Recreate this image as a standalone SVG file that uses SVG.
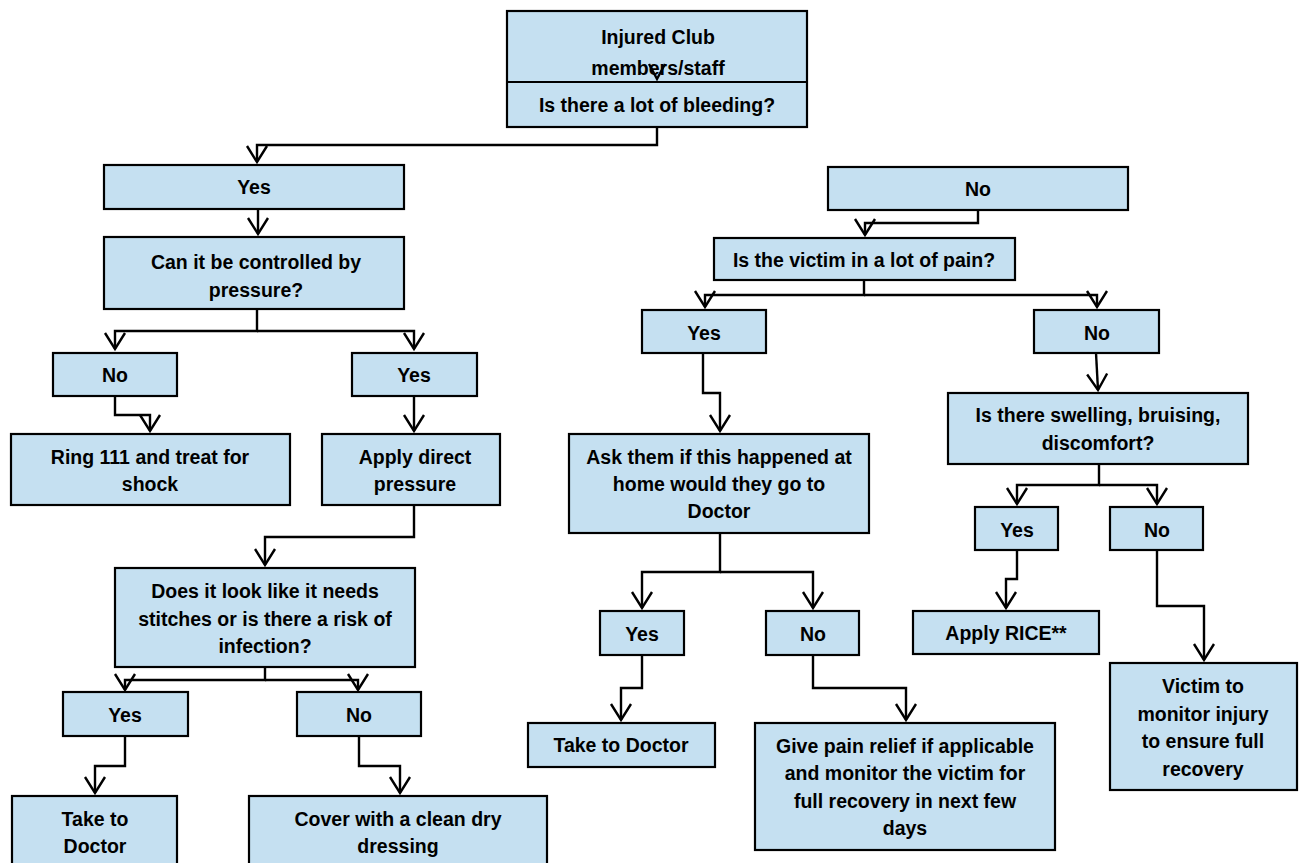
<svg xmlns="http://www.w3.org/2000/svg" width="1300" height="863" viewBox="0 0 1300 863">
<defs>
<style>
.box{fill:#C5E0F1;stroke:#000;stroke-width:2.2}
.t{font-family:"Liberation Sans",Arial,sans-serif;font-weight:bold;font-size:19.5px;fill:#000;text-anchor:middle}
.c{fill:none;stroke:#000;stroke-width:2.4;marker-end:url(#ah)}
.cn{fill:none;stroke:#000;stroke-width:2.4}
</style>
<marker id="ah" markerUnits="userSpaceOnUse" markerWidth="24" markerHeight="26" viewBox="-18 -13 20 26" refX="0" refY="0" orient="auto">
<path d="M-16,-10 L0,0 L-16,10" fill="none" stroke="#000" stroke-width="2.4"/>
</marker>
</defs>
<rect width="1300" height="863" fill="#fff"/>

<g id="n-start">
<rect class="box" x="507" y="11" width="300" height="116"/>
<line x1="507" y1="82" x2="807" y2="82" stroke="#000" stroke-width="2.2"/>
<text class="t" x="658" y="44">Injured Club</text>
<text class="t" x="658" y="75">members/staff</text>
<text class="t" x="657" y="112">Is there a lot of bleeding?</text>
</g>

<g id="n-yes-bleed">
<rect class="box" x="104" y="165" width="300" height="44"/>
<text class="t" x="254" y="194">Yes</text>
</g>
<g id="n-pressure">
<rect class="box" x="104" y="237" width="300" height="72"/>
<text class="t" x="256" y="269">Can it be controlled by</text>
<text class="t" x="256" y="297">pressure?</text>
</g>
<g id="n-no-press">
<rect class="box" x="53" y="353" width="124" height="43"/>
<text class="t" x="115" y="382">No</text>
</g>
<g id="n-yes-press">
<rect class="box" x="352" y="353" width="125" height="43"/>
<text class="t" x="414" y="382">Yes</text>
</g>
<g id="n-ring">
<rect class="box" x="11" y="434" width="279" height="71"/>
<text class="t" x="150" y="464">Ring 111 and treat for</text>
<text class="t" x="150" y="491">shock</text>
</g>
<g id="n-apply-pressure">
<rect class="box" x="322" y="434" width="178" height="71"/>
<text class="t" x="415" y="464">Apply direct</text>
<text class="t" x="415" y="491">pressure</text>
</g>
<g id="n-stitches">
<rect class="box" x="115" y="568" width="300" height="99"/>
<text class="t" x="265" y="598">Does it look like it needs</text>
<text class="t" x="265" y="626">stitches or is there a risk of</text>
<text class="t" x="265" y="653">infection?</text>
</g>
<g id="n-yes-stitch">
<rect class="box" x="63" y="692" width="125" height="44"/>
<text class="t" x="125" y="722">Yes</text>
</g>
<g id="n-no-stitch">
<rect class="box" x="297" y="692" width="124" height="44"/>
<text class="t" x="359" y="722">No</text>
</g>
<g id="n-doctor-left">
<rect class="box" x="12" y="796" width="165" height="75"/>
<text class="t" x="95" y="826">Take to</text>
<text class="t" x="95" y="853">Doctor</text>
</g>
<g id="n-cover">
<rect class="box" x="249" y="796" width="298" height="75"/>
<text class="t" x="398" y="826">Cover with a clean dry</text>
<text class="t" x="398" y="853">dressing</text>
</g>

<g id="n-no-bleed">
<rect class="box" x="828" y="167" width="300" height="43"/>
<text class="t" x="978" y="196">No</text>
</g>
<g id="n-pain">
<rect class="box" x="714" y="238" width="301" height="42"/>
<text class="t" x="864" y="267">Is the victim in a lot of pain?</text>
</g>
<g id="n-yes-pain">
<rect class="box" x="642" y="310" width="124" height="43"/>
<text class="t" x="704" y="340">Yes</text>
</g>
<g id="n-no-pain">
<rect class="box" x="1034" y="310" width="125" height="43"/>
<text class="t" x="1097" y="340">No</text>
</g>
<g id="n-ask">
<rect class="box" x="569" y="434" width="300" height="99"/>
<text class="t" x="719" y="464">Ask them if this happened at</text>
<text class="t" x="719" y="491">home would they go to</text>
<text class="t" x="719" y="518">Doctor</text>
</g>
<g id="n-swelling">
<rect class="box" x="948" y="393" width="300" height="71"/>
<text class="t" x="1098" y="422">Is there swelling, bruising,</text>
<text class="t" x="1098" y="450">discomfort?</text>
</g>
<g id="n-yes-swell">
<rect class="box" x="975" y="507" width="83" height="43"/>
<text class="t" x="1017" y="537">Yes</text>
</g>
<g id="n-no-swell">
<rect class="box" x="1110" y="507" width="93" height="43"/>
<text class="t" x="1157" y="537">No</text>
</g>
<g id="n-yes-ask">
<rect class="box" x="600" y="611" width="84" height="44"/>
<text class="t" x="642" y="641">Yes</text>
</g>
<g id="n-no-ask">
<rect class="box" x="766" y="611" width="93" height="44"/>
<text class="t" x="813" y="641">No</text>
</g>
<g id="n-rice">
<rect class="box" x="913" y="611" width="186" height="43"/>
<text class="t" x="1006" y="640">Apply RICE**</text>
</g>
<g id="n-doctor-right">
<rect class="box" x="528" y="723" width="187" height="44"/>
<text class="t" x="621" y="752">Take to Doctor</text>
</g>
<g id="n-relief">
<rect class="box" x="755" y="723" width="300" height="127"/>
<text class="t" x="905" y="753">Give pain relief if applicable</text>
<text class="t" x="905" y="780">and monitor the victim for</text>
<text class="t" x="905" y="808">full recovery in next few</text>
<text class="t" x="905" y="835">days</text>
</g>
<g id="n-victim">
<rect class="box" x="1110" y="663" width="187" height="127"/>
<text class="t" x="1203" y="693">Victim to</text>
<text class="t" x="1203" y="721">monitor injury</text>
<text class="t" x="1203" y="748">to ensure full</text>
<text class="t" x="1203" y="776">recovery</text>
</g>

<g id="connectors">
<path class="cn" d="M649,64 L657,79 L665,64"/>
<path class="c" d="M657,127 V145 H257 V162"/>
<path class="c" d="M258,209 V234"/>
<path class="c" d="M257,309 V331 H115 V349"/>
<path class="c" d="M257,331 H414 V349"/>
<path class="c" d="M115,396 V415 H150 V431"/>
<path class="c" d="M414,396 V431"/>
<path class="c" d="M414,505 V537 H265 V565"/>
<path class="c" d="M265,667 V680 H125 V690"/>
<path class="c" d="M265,680 H358 V690"/>
<path class="c" d="M125,736 V766 H95 V793"/>
<path class="c" d="M359,736 V766 H400 V793"/>
<path class="c" d="M978,210 V223 H865 V235"/>
<path class="c" d="M864,280 V295 H705 V307"/>
<path class="c" d="M864,295 H1097 V307"/>
<path class="c" d="M703,353 V393 H720 V431"/>
<path class="c" d="M1096,353 L1098,390"/>
<path class="c" d="M720,533 V572 H642 V608"/>
<path class="c" d="M720,572 H813 V608"/>
<path class="c" d="M642,655 V688 H621 V720"/>
<path class="c" d="M813,655 V688 H906 V720"/>
<path class="c" d="M1099,464 V485 H1017 V504"/>
<path class="c" d="M1099,485 H1157 V504"/>
<path class="c" d="M1017,550 V579 H1006 V608"/>
<path class="c" d="M1157,550 V606 H1204 V660"/>
</g>
</svg>
